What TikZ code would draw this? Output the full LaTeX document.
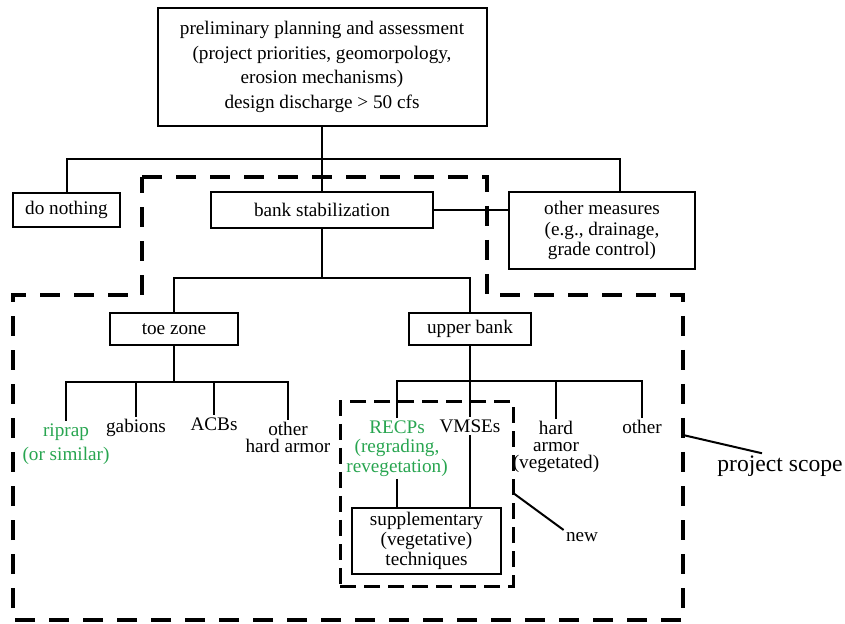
\documentclass[tikz,border=0pt]{standalone}
\usepackage{fontspec}
\setmainfont{Liberation Serif}
\definecolor{recgreen}{RGB}{40,165,80}

\begin{document}
\begin{tikzpicture}[x=0.5pt,y=-0.5pt]
\tikzstyle{mythin}=[line width=1pt]
\tikzstyle{bx}=[draw=black,rectangle,mythin,inner sep=2pt,align=center,font=\fontsize{9.6}{10}\selectfont]
\tikzstyle{lf}=[inner sep=1pt,anchor=north,align=center,font=\fontsize{9.6}{10}\selectfont]
\tikzstyle{ed}=[draw=black,mythin]
\tikzstyle{scopeline}=[line width=2pt,dash pattern=on 10pt off 7pt]
\tikzstyle{newline}=[line width=1.5pt,dash pattern=on 8pt off 4pt]
\useasboundingbox (0,0) rectangle (845,624);
\node [bx,minimum width=164.5pt,minimum height=59pt,font=\fontsize{9.6}{12.2}\selectfont] (plan) at (322,67) {preliminary planning and assessment\\(project priorities, geomorpology,\\erosion mechanisms)\\design discharge > 50 cfs};
\node [bx,minimum width=53.5pt,minimum height=17pt] (none) at (66.5,210) {do nothing};
\node [bx,minimum width=111pt,minimum height=18pt] (bank) at (322,210) {bank stabilization};
\node [bx,minimum width=93pt,minimum height=38.5pt,font=\fontsize{9.6}{10.2}\selectfont] (other) at (602,230.5) {other measures\\(e.g., drainage,\\grade control)};
\node [bx,minimum width=64pt,minimum height=16pt] (toe) at (174,329) {toe zone};
\node [bx,minimum width=61pt,minimum height=16pt] (upper) at (470,329) {upper bank};
\node [bx,minimum width=74.5pt,minimum height=33pt] (supp) at (426.5,541) {supplementary\\(vegetative)\\techniques};
% toe zone options
\node [lf,text=recgreen,font=\fontsize{9.6}{12}\selectfont] (riprap) at (66,421) {riprap\\(or similar)};
\node [lf] (gabions) at (136,417) {gabions};
\node [lf] (acb) at (214,415) {ACBs};
\node [lf,font=\fontsize{9.6}{8.6}\selectfont] (hard) at (288,420) {other\\hard armor};
% upper bank options
\node [lf,text=recgreen,font=\fontsize{9.6}{9.8}\selectfont] (recp) at (397,418) {RECPs\\(regrading,\\revegetation)};
\node [lf] (vmse) at (470,417) {VMSEs};
\node [lf,font=\fontsize{9.6}{8.4}\selectfont] (veg) at (556,419) {hard\\armor\\(vegetated)};
\node [lf] (rest) at (642,418) {other};
\node [draw,newline,minimum width=86.5pt,minimum height=92pt,inner sep=0pt] (newzone) at (426.5,494) {};
\node [font=\fontsize{9.6}{10}\selectfont,inner sep=1pt] (new) at (582,537) {new};
\node [font=\fontsize{11.8}{14}\selectfont,inner sep=1pt] (scope) at (780,466) {project scope};
\coordinate (j1) at (322,159);
\coordinate (j2) at (322,278);
\coordinate (j3) at (174,382);
\coordinate (j4) at (470,381);
\coordinate (edge) at (683,435);
\draw [ed] (plan.south) -- (j1);
\draw [ed] (none.north) |- (j1) -| ([xshift=9pt]other.north);
\draw [ed] (j1) -- (bank.north);
\draw [ed] (bank.east) -- (bank.east -| other.west);
\draw [ed] (bank.south) -- (j2);
\draw [ed] (toe.north) |- (j2) -| (upper.north);
\draw [ed] (toe.south) -- (j3);
\draw [ed] (riprap.north) |- (j3) -| (hard.north);
\draw [ed] (gabions.north) -- (gabions.north |- j3);
\draw [ed] (acb.north) -- (acb.north |- j3);
\draw [ed] (upper.south) -- (j4);
\draw [ed] (recp.north) |- (j4) -| (rest.north);
\draw [ed] (vmse.north) -- (vmse.north |- j4);
\draw [ed] (veg.north) -- (veg.north |- j4);
\draw [ed] (recp.south) -- (recp.south |- supp.north);
\draw [ed] (vmse.south) -- (vmse.south |- supp.north);
\draw [ed] (newzone.east) -- (new.north west);
\draw [ed] (edge) -- ([xshift=-9pt]scope.north);
% project scope outline
\draw [scopeline] (142,177) -- (487,177) -- (487,295) -- (683,295) -- (683,620) -- (13,620) -- (13,295) -- (142,295) -- cycle;
\end{tikzpicture}
\end{document}
